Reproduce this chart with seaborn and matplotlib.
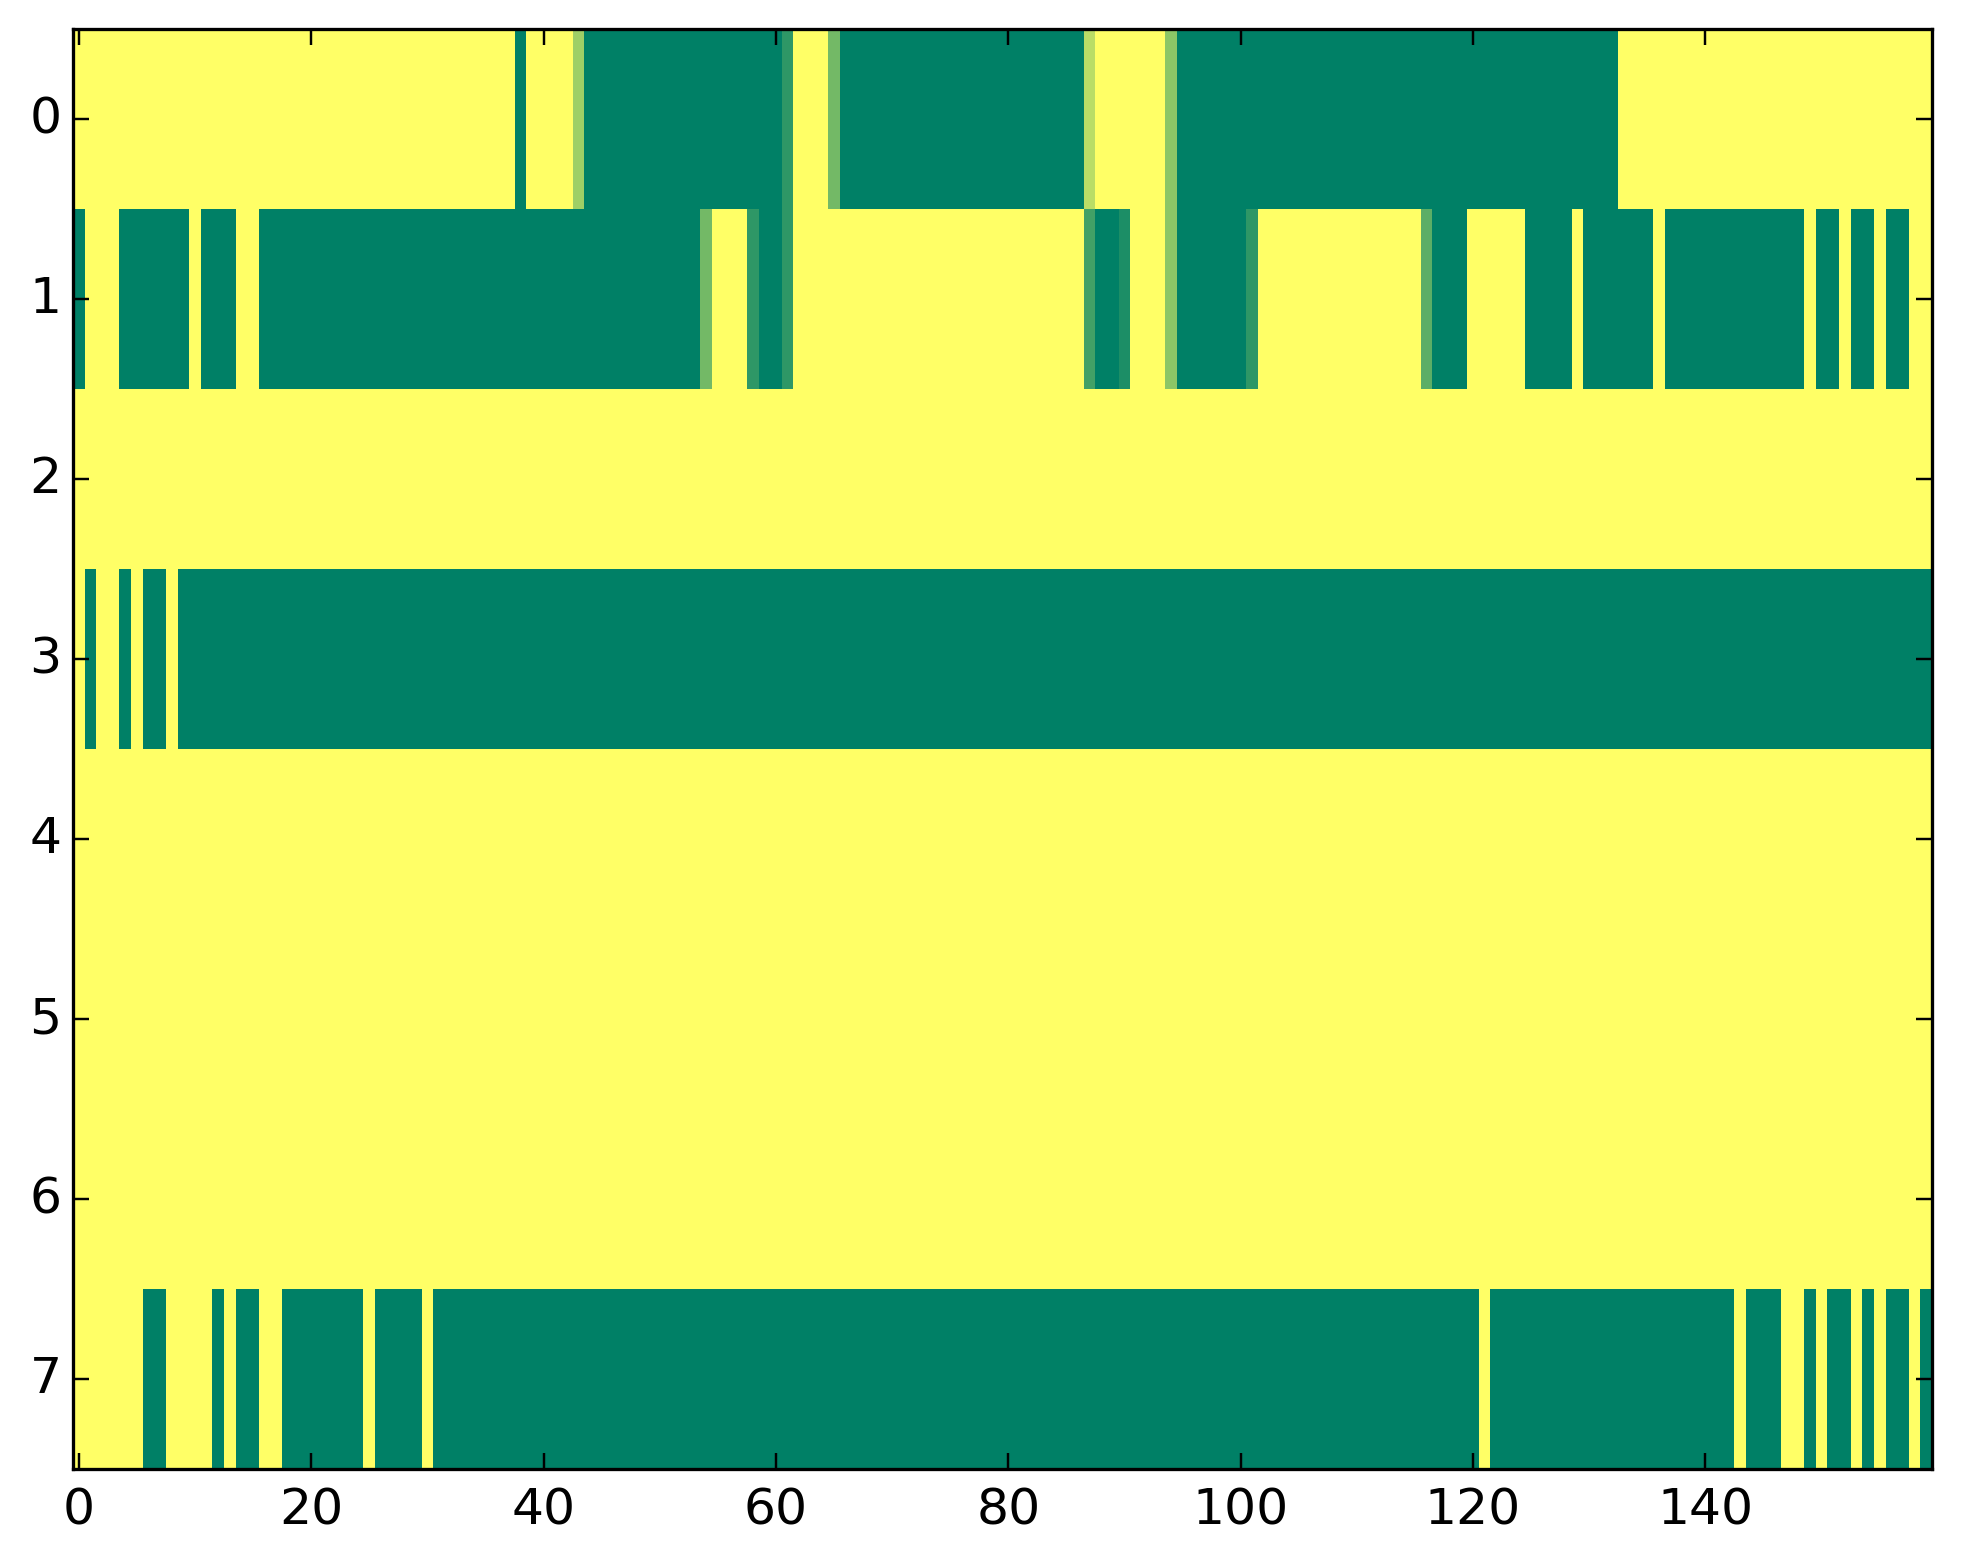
import numpy as np
import matplotlib
matplotlib.use("Agg")
import matplotlib.pyplot as plt
import seaborn as sns

# Values: 0 = dark green, 1 = yellow (summer colormap)
# Each row is given as runs of (value, number of columns); 160 columns per row.
G, Y = 0.0, 1.0
row0 = [(Y, 38), (G, 1), (Y, 4), (0.62, 1), (G, 17), (0.18, 1), (Y, 3), (0.45, 1),
        (G, 21), (0.73, 1), (Y, 6), (0.55, 1), (G, 38), (Y, 27)]
row1 = [(G, 1), (Y, 3), (G, 6), (Y, 1), (G, 3), (Y, 2), (G, 38), (0.45, 1), (Y, 3),
        (0.18, 1), (G, 2), (0.18, 1), (Y, 25), (0.26, 1), (G, 2), (0.11, 1), (Y, 3),
        (0.55, 1), (G, 6), (0.18, 1), (Y, 14), (0.36, 1), (G, 3), (Y, 5), (G, 4),
        (Y, 1), (G, 6), (Y, 1), (G, 12), (Y, 1), (G, 2), (Y, 1), (G, 2), (Y, 1),
        (G, 2), (Y, 2)]
row2 = [(Y, 160)]
row3 = [(Y, 1), (G, 1), (Y, 2), (G, 1), (Y, 1), (G, 2), (Y, 1), (G, 151)]
row4 = [(Y, 160)]
row5 = [(Y, 160)]
row6 = [(Y, 160)]
row7 = [(Y, 6), (G, 2), (Y, 4), (G, 1), (Y, 1), (G, 2), (Y, 2), (G, 7), (Y, 1),
        (G, 4), (Y, 1), (G, 90), (Y, 1), (G, 21), (Y, 1), (G, 3), (Y, 2), (G, 1),
        (Y, 1), (G, 2), (Y, 1), (G, 1), (Y, 1), (G, 2), (Y, 1), (G, 1)]

x_tick_labels = [0, 20, 40, 60, 80, 100, 120, 140]
y_tick_labels = [0, 1, 2, 3, 4, 5, 6, 7]


def expand(runs):
    vals = [v for v, n in runs]
    counts = [n for v, n in runs]
    return np.repeat(vals, counts)


data = np.vstack([expand(r) for r in [row0, row1, row2, row3, row4, row5, row6, row7]])

plt.rcParams['font.family'] = ['DejaVu Sans']
plt.rcParams['font.size'] = 14.5

fig = plt.figure(figsize=(1963 / 250, 1564 / 250), dpi=250)
fig.patch.set_facecolor('white')
ax = fig.add_axes([73 / 1963, 1 - 1469 / 1564, (1932 - 73) / 1963, (1469 - 29) / 1564])

sns.heatmap(data, cmap='summer', vmin=0, vmax=1, cbar=False, ax=ax,
            xticklabels=False, yticklabels=False, linewidths=0)

ax.set_xticks(np.array(x_tick_labels) + 0.5)
ax.set_xticklabels([str(v) for v in x_tick_labels], rotation=0)
ax.set_yticks(np.array(y_tick_labels) + 0.5)
ax.set_yticklabels([str(v) for v in y_tick_labels], rotation=0, va='center')

for s in ax.spines.values():
    s.set_visible(True)
    s.set_linewidth(0.95)
    s.set_color('black')

ax.tick_params(axis='both', which='major', direction='in', length=4.6, width=0.7,
               top=True, right=True, bottom=True, left=True,
               labelsize=14.5, colors='black')
ax.tick_params(axis='x', pad=5.0)
ax.tick_params(axis='y', pad=3.3)

fig.savefig('out.png', dpi=250, facecolor='white')
